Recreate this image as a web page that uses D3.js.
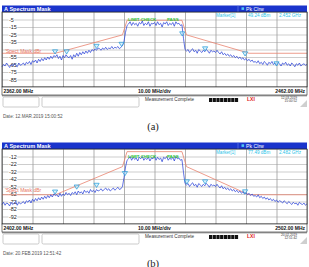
<!DOCTYPE html>
<html>
<head>
<meta charset="utf-8">
<script src="https://d3js.org/d3.v7.min.js"></script>
<style>
body { margin: 0; background: white; }
svg { display: block; font-family: "Liberation Sans", Arial, sans-serif; }
</style>
</head>
<body>
<div id="chart"></div>
<script>
// sweep points every 0.5 MHz from the start frequency
var traceStep = 0.5;

// ---- panel (a) ----
var spanA = [2362, 2462];
var refA = [5, -95];
var yTicksA = [-5, -15, -25, -35, -55, -65, -75, -85];
var traceA = [-68,-65,-67,-63,-66,-69,-65,-67,-64,-66,-68,-63,-66,-65,
  -63,-66,-62,-64,-61,-65,-60,-62,-59,-63,-58,-61,-57,-60,-56,-59,-55,-58,-54,-57,-53,-55,
  -52,-57,-54,-59,-53,-56,-52,-55,
  -56,-53,-58,-52,-55,-50,-54,-49,-52,-48,-51,-47,-50,-46,-49,-45,-47,-44,-46,-43,
  -44,-46,-43,-45,-42,-45,-43,-44,-41,-44,-42,-43,-41,-44,-42,-40,
  -34,-22,-13,
  -11,-8,-13,-9,-12,-10,-14,-9,-11,-7,-13,-10,-12,-8,-14,-10,-11,-9,-13,-8,
  -12,-10,-15,-9,-11,-8,-13,-10,-12,-9,-14,-8,-11,-10,-13,-12,
  -30,-45,
  -47,-45,-49,-46,-44,-48,-46,-50,-45,-47,-49,-46,-48,-45,-47,-50,-46,-48,-47,-49,-46,
  -49,-51,-48,-52,-50,-53,-51,-54,-52,-55,-53,-56,-54,-57,-55,-58,-56,-59,-57,-60,-58,-61,-59,-62,
  -61,-63,-60,-64,-62,-65,-61,-63,-66,-62,-64,-61,-65,-63,-66,-62,-64,-67,-63,-65,
  -62,-66,-64,-67,-63,-65,-68,-64,-66,-63,-67,-65,-64,-66,-65];
var maskFreqA = [2362, 2379.5, 2401.5, 2403, 2421, 2422.5, 2443, 2462];
var maskLvlA = [-50, -50, -25.5, -6, -6, -25.5, -50, -50];
var markFreqA = [2379.4, 2383.2, 2393, 2401.2, 2421.1, 2428.6, 2441.7, 2452];
var markLvlA = [-51, -51, -43.7, -41, -27, -47, -53.7, -67];
var markerTextA = ["Marker[1]", "49.24 dBm", "2.452 GHz"];
var dateA = "Date: 12.MAR.2019  15:00:52";
var clockA = ["12.03.2019", "15:00:52"];

// ---- panel (b) ----
var spanB = [2402, 2502];
var refB = [-2, -102];
var yTicksB = [-12, -22, -32, -42, -52, -62, -72, -82, -92];
var traceB = [-76,-73,-77,-74,-75,-78,-73,-76,-74,-72,-77,-73,-75,-74,
  -72,-75,-71,-73,-70,-74,-69,-72,-68,-71,-67,-70,-66,-69,-65,-68,-64,-67,-63,-66,-62,-64,
  -63,-66,-61,-65,-62,-64,-60,-63,
  -61,-64,-60,-62,-59,-63,-58,-61,-59,-62,-57,-60,-58,-61,-56,-59,-57,-60,-56,-58,
  -57,-55,-58,-56,-54,-57,-55,-58,-56,-54,-57,-55,-53,-56,-55,-52,
  -40,-26,-17,
  -15,-12,-17,-13,-16,-14,-18,-13,-15,-12,-17,-14,-16,-13,-18,-14,-15,-12,-17,-13,
  -16,-14,-19,-13,-15,-12,-17,-14,-16,-13,-18,-12,-15,-14,-17,-16,
  -33,-48,
  -50,-48,-52,-49,-47,-51,-49,-53,-48,-50,-52,-49,-51,-48,-50,-53,-49,-51,-50,-52,-49,
  -52,-54,-51,-55,-53,-56,-54,-57,-55,-58,-56,-59,-57,-60,-58,-61,-59,-62,-60,-63,-61,-64,-62,-65,
  -64,-66,-63,-67,-65,-68,-66,-69,-67,-70,-68,-71,-69,-72,-70,-73,-71,-72,-74,-71,
  -73,-75,-72,-74,-76,-73,-75,-74,-77,-73,-75,-76,-74,-77,-75];
var maskFreqB = [2402, 2419.5, 2441.5, 2443, 2461, 2462.5, 2483, 2502];
var maskLvlB = [-63, -63, -25.5, -5.5, -5.5, -25.5, -63, -63];
var markFreqB = [2419.4, 2426.5, 2433, 2442.3, 2462.6, 2468.6, 2481.7];
var markLvlB = [-62.3, -55.6, -53.3, -37.7, -48.7, -48.7, -62];
var markerTextB = ["Marker[1]", "77.49 dBm", "2.482 GHz"];
var dateB = "Date: 20.FEB.2019  12:51:42";
var clockB = ["20.02.2019", "12:51:42"];

var W = 309, H = 267;
var svg = d3.select("#chart").append("svg")
  .attr("width", W)
  .attr("height", H);

var left = 2, right = 307;

function drawPanel(top, span, ref, yTicks, trace, maskF, maskL, maskLabelDy, markF, markL, markerText, date, clock, caption) {
  var g = svg.append("g");
  var plotTop = top + 12, plotBot = top + 87;

  var x = d3.scaleLinear().domain(span).range([left, right]);
  var y = d3.scaleLinear().domain(ref).range([plotTop, plotBot]);

  // title bar
  g.append("rect").attr("x", left).attr("y", top + 5.5).attr("width", right - left).attr("height", 6.5)
    .attr("fill", "#1a34cc");
  g.append("line").attr("x1", 238).attr("x2", 238).attr("y1", top + 5.5).attr("y2", top + 12)
    .attr("stroke", "#6f86e8").attr("stroke-width", 0.6);
  g.append("text").attr("x", 4).attr("y", top + 10.6).text("A  Spectrum Mask")
    .attr("fill", "white").attr("font-size", 5.6).attr("font-weight", "bold");
  g.append("rect").attr("x", 241.5).attr("y", top + 7.3).attr("width", 2.6).attr("height", 2.6).attr("fill", "#52c8f0");
  g.append("text").attr("x", 246).attr("y", top + 10.6).text("Pk Clrw")
    .attr("fill", "white").attr("font-size", 5.2);

  // plot area + grid
  g.append("rect").attr("x", left).attr("y", plotTop).attr("width", right - left).attr("height", plotBot - plotTop)
    .attr("fill", "white");
  g.append("g").attr("transform", "translate(0," + plotBot + ")")
    .call(d3.axisBottom(x).tickValues(d3.range(span[0], span[1] + 1, 10)).tickSize(plotBot - plotTop).tickFormat(""))
    .call(a => a.select(".domain").remove())
    .call(a => a.selectAll("line").attr("stroke", "#7a7a7a").attr("stroke-width", 0.6)
      .attr("y2", -(plotBot - plotTop)));
  g.append("g").attr("transform", "translate(" + left + ",0)")
    .call(d3.axisRight(y).tickValues(d3.range(ref[0], ref[1] - 1, -10)).tickSize(right - left).tickFormat(""))
    .call(a => a.select(".domain").remove())
    .call(a => a.selectAll("line").attr("stroke", "#9a9a9a").attr("stroke-width", 0.5));

  // y labels
  yTicks.forEach(function(v) {
    var t = g.append("text").attr("x", 9).attr("y", y(v) + 2).text(v)
      .attr("font-size", 5.4).attr("fill", "#222");
    var bb = t.node().getBBox();
    g.insert("rect", function() { return t.node(); })
      .attr("x", bb.x - 0.5).attr("y", y(v) - 2.2).attr("width", bb.width + 1).attr("height", 4.4).attr("fill", "white");
  });

  // marker table in the top row
  var cells = [216, 248, 279];
  markerText.forEach(function(s, i) {
    g.append("text").attr("x", cells[i]).attr("y", plotTop + 5.3).text(s)
      .attr("font-size", 4.6).attr("fill", "#2cc4e8");
  });

  // spectrum mask limit line
  var maskPts = maskF.map((f, i) => [f, maskL[i]]);
  g.append("path").datum(maskPts)
    .attr("d", d3.line().x(d => x(d[0])).y(d => y(d[1])))
    .attr("fill", "none").attr("stroke", "#e8836e").attr("stroke-width", 0.8);
  g.append("text").attr("x", 5).attr("y", y(maskL[0]) + maskLabelDy).text("'Spect Mask dBr")
    .attr("font-size", 5).attr("fill", "#e8735e");

  // trace
  var pts = trace.map((v, i) => [span[0] + i * traceStep, v]);
  g.append("path").datum(pts)
    .attr("d", d3.line().x(d => x(d[0])).y(d => y(d[1])))
    .attr("fill", "none").attr("stroke", "#2c44d8").attr("stroke-width", 0.75);

  // limit check text
  g.append("text").attr("x", 128).attr("y", plotTop + 8.6).text("LIMIT CHECK")
    .attr("font-size", 4.4).attr("font-weight", "bold").attr("fill", "#2ec43a");
  g.append("text").attr("x", 167).attr("y", plotTop + 8.6).text("PASS")
    .attr("font-size", 4.4).attr("font-weight", "bold").attr("fill", "#2ec43a");

  // markers
  markF.forEach(function(f, i) {
    var mx = x(f), my = y(markL[i]);
    g.append("path")
      .attr("d", "M" + (mx - 2.6) + "," + (my - 4.2) + "L" + (mx + 2.6) + "," + (my - 4.2) + "L" + mx + "," + my + "Z")
      .attr("fill", "#bfe8f8").attr("fill-opacity", 0.6).attr("stroke", "#1f9ad8").attr("stroke-width", 0.7);
  });

  // plot border
  g.append("rect").attr("x", left).attr("y", plotTop).attr("width", right - left).attr("height", plotBot - plotTop)
    .attr("fill", "none").attr("stroke", "#222").attr("stroke-width", 0.7);

  // frequency row
  g.append("rect").attr("x", left).attr("y", plotBot).attr("width", right - left).attr("height", 8)
    .attr("fill", "white").attr("stroke", "#222").attr("stroke-width", 0.6);
  g.append("text").attr("x", 3.5).attr("y", plotBot + 6).text(span[0].toFixed(2) + " MHz")
    .attr("font-size", 5).attr("font-weight", "bold").attr("fill", "#111");
  g.append("text").attr("x", 154.5).attr("y", plotBot + 6).text("10.00 MHz/div")
    .attr("text-anchor", "middle").attr("font-size", 5).attr("font-weight", "bold").attr("fill", "#111");
  g.append("text").attr("x", 305).attr("y", plotBot + 6).text(span[1].toFixed(2) + " MHz")
    .attr("text-anchor", "end").attr("font-size", 5).attr("font-weight", "bold").attr("fill", "#111");

  // status bar
  var sb = plotBot + 8;
  g.append("line").attr("x1", left).attr("x2", right).attr("y1", sb + 0.8).attr("y2", sb + 0.8)
    .attr("stroke", "#555").attr("stroke-width", 0.8);
  g.append("rect").attr("x", 3).attr("y", sb + 2).attr("width", 36).attr("height", 10).attr("rx", 1.5)
    .attr("fill", "white").attr("stroke", "#aaa").attr("stroke-width", 0.6);
  g.append("rect").attr("x", 42).attr("y", sb + 2).attr("width", 97).attr("height", 10).attr("rx", 1.5)
    .attr("fill", "white").attr("stroke", "#aaa").attr("stroke-width", 0.6);
  g.append("text").attr("x", 145).attr("y", sb + 5.8).text("Measurement Complete")
    .attr("font-size", 4.6).attr("fill", "#333");
  g.selectAll(null).data(d3.range(8)).enter().append("rect")
    .attr("x", d => 209 + d * 3.7).attr("y", sb + 3).attr("width", 3.2).attr("height", 4)
    .attr("fill", "#111");
  g.append("text").attr("x", 247).attr("y", sb + 6.4).text("LXI")
    .attr("font-size", 5).attr("font-weight", "bold").attr("fill", "#e02020");
  g.append("text").attr("x", 297).attr("y", sb + 4).text(clock[0])
    .attr("text-anchor", "end").attr("font-size", 3.2).attr("fill", "#333");
  g.append("text").attr("x", 297).attr("y", sb + 7.4).text(clock[1])
    .attr("text-anchor", "end").attr("font-size", 3.2).attr("fill", "#333");
  g.append("path").attr("d", "M300," + (sb + 12) + "L307," + (sb + 12) + "L307," + (sb + 5) + "Z")
    .attr("fill", "#cfcfcf");

  // date + caption
  g.append("text").attr("x", 3).attr("y", top + 117.5).text(date)
    .attr("font-size", 4.6).attr("fill", "#555");
  g.append("text").attr("x", 153).attr("y", top + 130).text(caption)
    .attr("text-anchor", "middle").attr("font-size", 10.5).attr("fill", "#222")
    .attr("font-family", "'Liberation Serif', 'DejaVu Serif', serif");
}

drawPanel(0, spanA, refA, yTicksA, traceA, maskFreqA, maskLvlA, -0.3, markFreqA, markLvlA, markerTextA, dateA, clockA, "(a)");
drawPanel(137, spanB, refB, yTicksB, traceB, maskFreqB, maskLvlB, -2.9, markFreqB, markLvlB, markerTextB, dateB, clockB, "(b)");
</script>
</body>
</html>
